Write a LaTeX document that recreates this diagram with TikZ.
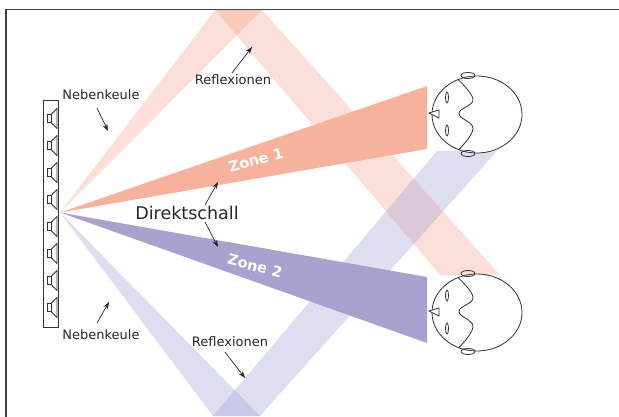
\documentclass[tikz,border=0pt]{standalone}
\usepackage{fontspec}
\setmainfont{DejaVu Sans}
\usetikzlibrary{arrows.meta}

\definecolor{zoneeins}{RGB}{247,178,158}
\definecolor{zonezwei}{RGB}{168,162,207}
\definecolor{keuleeins}{RGB}{244,150,125}
\definecolor{keulezwei}{RGB}{160,160,215}

\tikzset{
  linie/.style={line width=0.8pt, draw=black!80},
  pfeil/.style={-{Stealth[length=7pt,width=5pt]}, line width=0.7pt, draw=black!85},
  beschr/.style={font=\fontsize{13}{15}\selectfont, text=black!85, inner sep=1pt},
  zonetext/.style={font=\fontsize{14.5}{16}\selectfont\bfseries, text=white, inner sep=0pt},
  % Kopf von oben gesehen, Nase nach links
  kopf/.pic={
    \draw[linie, fill=white] (0,0) ellipse [x radius=45pt, y radius=38.5pt];
    \draw[linie] (-9,-39) ellipse [x radius=7pt, y radius=3pt];
    \draw[linie] (-9,39) ellipse [x radius=7pt, y radius=3pt];
    \draw[linie] (-30,-17) ellipse [x radius=1.5pt, y radius=5.5pt];
    \draw[linie] (-30,16) ellipse [x radius=1.5pt, y radius=5.5pt];
    \draw[linie, fill=white] (-48,-1.5) -- (-38,-4.5) -- (-38,3.5) -- cycle;
    \draw[linie] plot[smooth, tension=0.7] coordinates
      {(-19,-35) (-4,-15) (-18,-1) (-4,14) (-18,35)};
  }
}

\begin{document}
\begin{tikzpicture}[x=1pt, y=-1pt]
  \useasboundingbox (0,0) rectangle (619,417);

  % Rahmen
  \draw[line width=1.8pt, black!75] (619,9.5) -- (6,9.5) -- (6,417);

  \coordinate (quelle) at (60,212.5);

  % Nebenkeulen mit Reflexionen an Decke und Boden
  \fill[keuleeins, opacity=0.3] (quelle) -- (215,10) -- (262,10) -- cycle;
  \fill[keuleeins, opacity=0.3] (215,10) -- (262,10) -- (500,275) -- (440,275) -- cycle;
  \fill[keulezwei, opacity=0.35] (quelle) -- (213,416) -- (260,416) -- cycle;
  \fill[keulezwei, opacity=0.35] (213,416) -- (260,416) -- (497,151) -- (437,151) -- cycle;

  % Direktschall
  \fill[zoneeins] (quelle) -- (427,86) -- (427,149) -- cycle;
  \fill[zonezwei] (quelle) -- (427,277) -- (427,343) -- cycle;

  \node[zonetext, rotate=15] (zone1) at (256,160) {Zone 1};
  \node[zonetext, rotate=-15] (zone2) at (255,266) {Zone 2};

  % Lautsprecherzeile
  \draw[linie, fill=white] (43,100) rectangle (58,327);
  \foreach \i in {0,...,7}{
    \draw[linie] (47,{114.5+27*\i}) rectangle (51,{122.5+27*\i});
    \draw[linie] (51,{114.5+27*\i}) -- (57,{108.5+27*\i})
      -- (57,{128.5+27*\i}) -- (51,{122.5+27*\i});
  }

  % Hoerer
  \pic at (477,114.5) {kopf};
  \pic at (477,312.5) {kopf};

  % Beschriftungen
  \node[beschr] (nk1) at (101,95) {Nebenkeule};
  \node[beschr] (nk2) at (101,335) {Nebenkeule};
  \node[beschr] (ref1) at (233,80) {Reflexionen};
  \node[beschr] (ref2) at (230,342) {Reflexionen};
  \node[font=\fontsize{17.5}{20}\selectfont, text=black!85, inner sep=1pt]
    (dir) at (187,213) {Direktschall};

  \coordinate (nk1ziel) at (108,131);
  \coordinate (nk2ziel) at (109,302);
  \coordinate (ref1ziel) at (252,47);
  \coordinate (ref2ziel) at (245,378);
  \coordinate (z1ziel) at (218,182);
  \coordinate (z2ziel) at (218,247);

  \draw[pfeil] (nk1) ++(-4,13) -- (nk1ziel);
  \draw[pfeil] (nk2) ++(-4,-12) -- (nk2ziel);
  \draw[pfeil] (ref1) ++(-1,-7) -- (ref1ziel);
  \draw[pfeil] (ref2) ++(-5,10) -- (ref2ziel);
  \draw[pfeil] (dir) ++(18,-8) -- (z1ziel);
  \draw[pfeil] (dir) ++(18,9) -- (z2ziel);
\end{tikzpicture}
\end{document}
